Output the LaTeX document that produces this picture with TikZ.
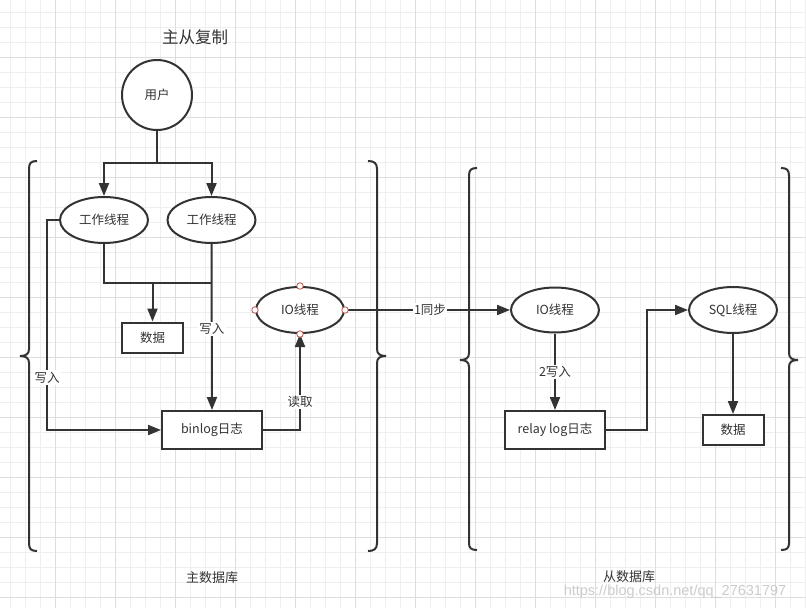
\documentclass[tikz,border=0pt]{standalone}
\usepackage{fontspec}
\setmainfont{Noto Sans CJK SC}
\newfontfamily\wmfont{Liberation Sans}
\usetikzlibrary{arrows.meta,shapes.geometric}
\definecolor{ink}{HTML}{333333}
\definecolor{gminor}{HTML}{EFEFEF}
\definecolor{gmajor}{HTML}{DEDEDE}
\definecolor{ptred}{HTML}{B85450}
\tikzset{
  x=1pt,y=-1pt,
  conn/.style={draw=ink,line width=2pt},
  arr/.style={conn,-{Triangle[length=13pt,width=10pt]}},
  ell/.style={ellipse,draw=ink,line width=2pt,fill=white,minimum width=88pt,minimum height=46pt,inner sep=0pt,text=ink,font=\fontsize{12.5}{15}\selectfont},
  boxnode/.style={rectangle,draw=ink,line width=2pt,fill=white,inner sep=0pt,text=ink,font=\fontsize{12.5}{15}\selectfont},
  lbl/.style={fill=white,inner sep=1.5pt,text=ink,font=\fontsize{12.5}{15}\selectfont},
  plain/.style={text=ink,inner sep=0pt},
  brace/.style={draw=ink,line width=2pt},
  ptc/.style={circle,draw=ptred,fill=white,line width=0.8pt,minimum size=6.5pt,inner sep=0pt},
}
\begin{document}
\begin{tikzpicture}
\useasboundingbox (0,0) rectangle (806,608);
\fill[white] (0,0) rectangle (806,608);
% grid
\foreach \i in {0,...,53} {
  \pgfmathsetmacro{\gx}{10.7+15*\i}
  \draw[gminor,line width=1pt] (\gx,0) -- (\gx,608);
}
\foreach \i in {0,...,40} {
  \pgfmathsetmacro{\gy}{12.3+15*\i}
  \draw[gminor,line width=1pt] (0,\gy) -- (806,\gy);
}
\foreach \i in {0,...,13} {
  \pgfmathsetmacro{\gx}{55.7+60*\i}
  \draw[gmajor,line width=1pt] (\gx,0) -- (\gx,608);
}
\foreach \i in {0,...,9} {
  \pgfmathsetmacro{\gy}{57.3+60*\i}
  \draw[gmajor,line width=1pt] (0,\gy) -- (806,\gy);
}

% braces
\draw[brace] (37,161) .. controls (31,161) and (29,163) .. (29,169) -- (29,349)
  .. controls (29,354) and (26,356) .. (20,356) .. controls (26,356) and (29,358) .. (29,363)
  -- (29,543) .. controls (29,549) and (31,551) .. (37,551);
\draw[brace] (368,161) .. controls (374,161) and (377,163) .. (377,169) -- (377,349)
  .. controls (377,354) and (380,356) .. (386,356) .. controls (380,356) and (377,358) .. (377,363)
  -- (377,543) .. controls (377,549) and (374,551) .. (368,551);
\draw[brace] (477,168) .. controls (471,168) and (469,170) .. (469,176) -- (469,353)
  .. controls (469,358) and (466,360) .. (460,360) .. controls (466,360) and (469,362) .. (469,367)
  -- (469,543) .. controls (469,548) and (471,550) .. (477,550);
\draw[brace] (781,168) .. controls (787,168) and (789,170) .. (789,176) -- (789,353)
  .. controls (789,358) and (792,360) .. (798,360) .. controls (792,360) and (789,362) .. (789,367)
  -- (789,543) .. controls (789,548) and (787,550) .. (781,550);

% title and captions
\node[plain,font=\fontsize{16.5}{19}\selectfont] (title) at (195,37) {主从复制};
\node[plain,font=\fontsize{13}{15}\selectfont] (mastercap) at (212,578) {主数据库};
\node[plain,font=\fontsize{13}{15}\selectfont] (slavecap) at (629,577) {从数据库};
\node[inner sep=0pt,text=gray!40,font=\wmfont\fontsize{14.5}{16}\selectfont] (wm) at (675,592) {https://blog.csdn.net/qq\_27631797};

% nodes
\node[circle,draw=ink,line width=2pt,fill=white,minimum size=70pt,inner sep=0pt,text=ink,font=\fontsize{12.5}{15}\selectfont] (user) at (157,95) {用户};
\node[ell] (w1) at (104,220) {工作线程};
\node[ell] (w2) at (211.5,220) {工作线程};
\node[boxnode,minimum width=61pt,minimum height=30pt] (data1) at (152.5,337.5) {数据};
\node[boxnode,minimum width=100pt,minimum height=38pt] (binlog) at (212,430) {binlog日志};
\node[ell] (io1) at (300,310) {IO线程};
\node[ell,minimum height=45pt] (io2) at (555,310) {IO线程};
\node[boxnode,minimum width=100pt,minimum height=38pt] (relay) at (555,430) {relay log日志};
\node[ell] (sql) at (733,310) {SQL线程};
\node[boxnode,minimum width=61pt,minimum height=30pt] (data2) at (733,430) {数据};

% junctions
\coordinate (j1) at (157,163);
\coordinate (j2) at (152.5,283);
\coordinate (j3) at (211.5,283);
\coordinate (c1) at (47,220);
\coordinate (c2) at (647,430);

% connectors
\draw[conn] (user.south) -- (j1);
\draw[arr] (j1) -| (w1.north);
\draw[arr] (j1) -| (w2.north);
\draw[conn] (w1.south) |- (j3);
\draw[arr] (j2) -- (data1.north);
\draw[arr] (w2.south) -- node[lbl,pos=0.51] (l1) {写入} (binlog.north);
\draw[arr] (w1.west) -- (c1) |- node[lbl,pos=0.375] (l2) {写入} (binlog.west);
\draw[arr] (binlog.east) -| node[lbl,pos=0.645] (l3) {读取} (io1.south);
\draw[arr] (io1.east) -- node[lbl,pos=0.515] (l4) {1同步} (io2.west);
\draw[arr] (io2.south) -- node[lbl,pos=0.5] (l5) {2写入} (relay.north);
\draw[arr] (relay.east) -- (c2) |- (sql.west);
\draw[arr] (sql.south) -- (data2.north);

% connection point markers on the master IO thread
\node[ptc] (p1) at (io1.north) {};
\node[ptc] (p2) at (io1.south) {};
\node[ptc] (p3) at (io1.west) {};
\node[ptc] (p4) at (io1.east) {};
\end{tikzpicture}
\end{document}
